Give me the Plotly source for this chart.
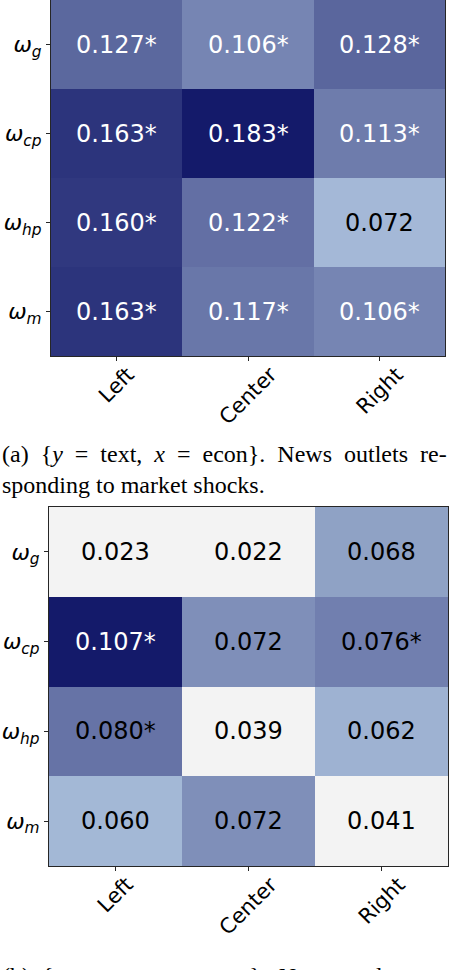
import plotly.graph_objects as go

W, H = 458, 970

# data
outlets = ['Left', 'Center', 'Right']
weights = ['g', 'cp', 'hp', 'm']

text_econ = [[0.127, 0.106, 0.128],
             [0.163, 0.183, 0.113],
             [0.160, 0.122, 0.072],
             [0.163, 0.117, 0.106]]
text_econ_sig = [[1, 1, 1],
                 [1, 1, 1],
                 [1, 1, 0],
                 [1, 1, 1]]

econ_text = [[0.023, 0.022, 0.068],
             [0.107, 0.072, 0.076],
             [0.080, 0.039, 0.062],
             [0.060, 0.072, 0.041]]
econ_text_sig = [[0, 0, 0],
                 [1, 0, 1],
                 [1, 0, 0],
                 [0, 0, 0]]

SP = '&nbsp;'
caption_a = ['(a)' + SP + ' {<i>y</i>' + SP + ' =' + SP + ' text,' + SP + ' <i>x</i>' + SP
             + ' =' + SP + ' econ}.' + SP + ' News' + SP + ' outlets' + SP + ' re-',
             'sponding to market shocks.']
caption_b = ['(b)' + SP + ' {<i>y</i>' + SP + ' =' + SP + ' econ,' + SP + ' <i>x</i>' + SP
             + ' =' + SP + ' text}.' + SP + ' News' + SP + ' outlet']

GRAY = '#f3f3f3'
BLUES = [(0.0, '#a8bdda'), (0.2, '#90a3c6'), (0.33, '#7685b3'), (0.45, '#6673a6'),
         (0.55, '#55619a'), (0.8, '#30387f'), (1.0, '#141a6a')]


def make_scale(zmin, lo, zmax):
    """gray below lo, then light blue -> navy up to zmax"""
    cut = (lo - zmin) / (zmax - zmin)
    scale = []
    if cut > 0:
        scale += [[0.0, GRAY], [cut, GRAY]]
    for t, c in BLUES:
        scale.append([cut + t * (1 - cut), c])
    return scale


def py(p):
    return 1 - p / H


def px_(p):
    return p / W


fig = go.Figure()

panels = [
    dict(z=text_econ, sig=text_econ_sig, zmin=0.068, lo=0.068, zmax=0.183,
         top=0, bottom=356, left=51, right=445, xa='x', ya='y'),
    dict(z=econ_text, sig=econ_text_sig, zmin=0.03, lo=0.058, zmax=0.107,
         top=507, bottom=866, left=49, right=448, xa='x2', ya='y2'),
]

ylabels = ['<i>ω</i><sub><i>%s</i></sub>' % w for w in weights]

for i, p in enumerate(panels):
    fig.add_trace(go.Heatmap(
        z=p['z'], x=outlets, y=weights,
        zmin=p['zmin'], zmax=p['zmax'],
        colorscale=make_scale(p['zmin'], p['lo'], p['zmax']),
        showscale=False, xaxis=p['xa'], yaxis=p['ya'],
        hoverinfo='skip',
    ))
    for r, w in enumerate(weights):
        for c, o in enumerate(outlets):
            v = p['z'][r][c]
            label = '%.3f' % v + ('*' if p['sig'][r][c] else '')
            fig.add_annotation(
                x=o, y=w, xref=p['xa'], yref=p['ya'], text=label, showarrow=False,
                font=dict(family='DejaVu Sans', size=24,
                          color='white' if v > 0.09 else 'black'))
    # rotated x tick labels
    for o in outlets:
        fig.add_annotation(
            x=o, xref=p['xa'], y=py(p['bottom'] + 4), yref='paper',
            text=o, showarrow=False, textangle=-45,
            xanchor='center', yanchor='top',
            font=dict(family='DejaVu Sans', size=21, color='black'))

    axis_common = dict(showline=True, linecolor='#262626', linewidth=1, mirror=True,
                       ticks='outside', ticklen=4, tickcolor='#262626', showgrid=False,
                       zeroline=False, automargin=False)
    xkey = 'xaxis' if i == 0 else 'xaxis2'
    ykey = 'yaxis' if i == 0 else 'yaxis2'
    fig.update_layout(**{
        xkey: dict(domain=[px_(p['left']), px_(p['right'])], anchor=p['ya'],
                   showticklabels=False, **axis_common),
        ykey: dict(domain=[py(p['bottom']), py(p['top'])], anchor=p['xa'],
                   autorange='reversed', tickvals=weights, ticktext=ylabels,
                   tickfont=dict(family='DejaVu Sans', size=22, color='black'),
                   **axis_common),
    })

# captions
cap_font = dict(family='Liberation Serif', size=24, color='black')
for k, line in enumerate(caption_a):
    fig.add_annotation(x=0, y=py(454 + 31 * k), xref='paper', yref='paper', text=line,
                       showarrow=False, xanchor='left', yanchor='middle', font=cap_font)
fig.add_annotation(x=0, y=py(976), xref='paper', yref='paper', text=caption_b[0],
                   showarrow=False, xanchor='left', yanchor='middle', font=cap_font)

fig.update_layout(width=W, height=H, margin=dict(l=0, r=0, t=0, b=0),
                  paper_bgcolor='white', plot_bgcolor='white')

# the page body has a default 8px margin; drop it so the figure sits at the corner
fig.write_html('out.html', config={'displayModeBar': False},
               post_script="document.body.style.margin='0px';")
